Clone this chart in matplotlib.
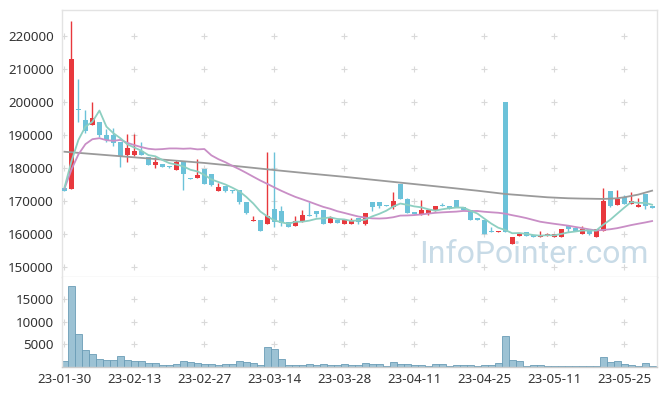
import matplotlib
matplotlib.use("Agg")
import matplotlib.pyplot as plt
import numpy as np
import pandas as pd

# ---------------- data ----------------
opens = [174000, 173600, 198000, 194500, 193100, 194000, 190000, 190000, 187800, 183800,
         184000, 185100, 183400, 180900, 181100, 180500, 179400, 181800, 176900, 177000,
         179800, 178100, 173000, 174400, 173200, 173200, 169800, 163800, 164300, 162900,
         167400, 166800, 163600, 162300, 163500, 165600, 166800, 167100, 163200, 164300,
         162900, 162900, 164900, 163000, 169800, 169800, 168800, 168200, 175000, 170700,
         166600, 166000, 166300, 167000, 168800, 168600, 170200, 168300, 167100, 164900,
         164300, 160700, 160500, 200000, 156800, 159300, 160600, 159700, 159000, 159500,
         159000, 159000, 162300, 161700, 159900, 161400, 159000, 160800, 172900, 168700,
         171100, 169200, 168100, 172000, 168600]
highs = [174000, 224500, 207000, 197500, 200000, 194000, 191900, 192000, 188000, 190200,
         190200, 187900, 183400, 183300, 181100, 180500, 182300, 181800, 176900, 182600,
         179800, 178100, 175400, 174400, 173200, 173200, 169800, 165400, 164300, 184900,
         184900, 168400, 163600, 165500, 167300, 169800, 166800, 167100, 165500, 164300,
         164600, 164900, 164900, 166200, 169800, 169800, 168800, 172600, 175000, 171000,
         166600, 170400, 167100, 168600, 169400, 168600, 170200, 168300, 167100, 164900,
         164300, 162100, 160800, 200000, 159100, 160200, 160600, 159700, 161000, 160300,
         159900, 161400, 162300, 161700, 162300, 161400, 161400, 174000, 172900, 173300,
         171800, 172600, 170900, 172000, 168600]
lows = [173000, 173500, 194000, 190700, 193000, 189300, 188000, 186600, 180200, 181700,
        183600, 183800, 181000, 180000, 180300, 180000, 179400, 173400, 176600, 177000,
        175100, 174500, 173000, 172600, 172300, 169000, 166000, 163800, 160800, 162900,
        162000, 162500, 162000, 162300, 163500, 165300, 165200, 162900, 163200, 163200,
        162900, 162900, 163100, 162700, 167000, 167900, 168500, 167500, 170700, 166200,
        166000, 165800, 165700, 167000, 168500, 167600, 168100, 167100, 164100, 164100,
        159900, 160500, 160500, 160700, 156800, 159300, 159300, 159000, 159000, 159500,
        159000, 159000, 160600, 161000, 159900, 159600, 159000, 160800, 168300, 168700,
        169000, 169200, 168100, 167500, 167800]
closes = [173000, 213000, 197500, 191300, 195100, 190000, 188600, 187600, 183600, 185900,
          185100, 183800, 181000, 181800, 180300, 180300, 181700, 178200, 176700, 177800,
          175100, 174800, 174300, 172900, 172900, 169600, 166300, 164300, 160800, 165500,
          163700, 163300, 162000, 163900, 165600, 165300, 166000, 162900, 165200, 163200,
          164600, 163800, 163700, 166200, 168300, 168400, 168500, 170100, 170700, 166400,
          166000, 167100, 167100, 168600, 168500, 167600, 168100, 167100, 164100, 164100,
          159900, 160500, 160800, 160700, 159100, 160200, 159300, 159000, 159700, 159900,
          159900, 161400, 161400, 161000, 161400, 159900, 161400, 170100, 168500, 170600,
          169000, 170100, 168900, 168400, 167800]
volumes = [1190, 18000, 7240, 3650, 2760, 1640, 1410, 1410, 2310, 1410,
           1190, 1190, 740, 740, 290, 290, 520, 1190, 970, 740,
           520, 520, 290, 520, 520, 1190, 970, 740, 290, 4330,
           3880, 1640, 290, 290, 290, 520, 290, 520, 290, 290,
           520, 290, 290, 740, 520, 520, 100, 970, 520, 520,
           290, 290, 100, 520, 520, 100, 290, 290, 290, 100,
           290, 290, 740, 6790, 1410, 1190, 100, 290, 290, 70,
           50, 70, 50, 70, 70, 70, 70, 2090, 970, 1190,
           520, 290, 100, 740, 70]
# first moving-average points (window reaches before the shown period)
ma5_head = [174000, 182000, 188500, 192500]
ma20_head = [173700, 179500, 184100, 187200, 188700, 189000, 188400, 188200, 188500, 187600,
             186900, 186300, 185800, 185600, 185700, 185900, 185900, 185800, 185900]
ma_long = [184900, 184730, 184560, 184390, 184220, 184050, 183880, 183710, 183540, 183370,
           183200, 183030, 182860, 182690, 182520, 182350, 182180, 182010, 181840, 181670,
           181500, 181290, 181080, 180870, 180660, 180450, 180230, 180010, 179790, 179570,
           179350, 179140, 178930, 178720, 178510, 178300, 178100, 177900, 177700, 177500,
           177300, 177080, 176860, 176640, 176420, 176200, 175980, 175760, 175540, 175320,
           175100, 174880, 174660, 174440, 174220, 174000, 173780, 173550, 173320, 173100,
           172850, 172600, 172350, 172100, 171930, 171770, 171600, 171430, 171270, 171100,
           171000, 170900, 170800, 170750, 170700, 170670, 170630, 170600, 170680, 170800,
           171100, 171500, 171900, 172500, 173100]
tick_labels = ['23-01-30', '23-02-13', '23-02-27', '23-03-14', '23-03-28',
               '23-04-11', '23-04-25', '23-05-11', '23-05-25']
price_ticks = [150000, 160000, 170000, 180000, 190000, 200000, 210000, 220000]
vol_ticks = [5000, 10000, 15000]

# ---------------- derived ----------------
n = len(closes)
x = np.arange(n)
cs = pd.Series(closes, dtype=float)
ma5 = cs.rolling(5).mean().to_numpy()
ma5[:4] = ma5_head
ma20 = cs.rolling(20).mean().to_numpy()
ma20[:19] = ma20_head

UP = '#e8383d'
DOWN = '#6cc2d9'
W, H, DPI = 665, 396, 100
fig = plt.figure(figsize=(W / DPI, H / DPI), dpi=DPI)
plt.rcParams['font.family'] = ['Noto Sans', 'DejaVu Sans']

L, R = 62, 657
ax = fig.add_axes([L / W, 1 - 277 / H, (R - L) / W, (277 - 10) / H])
axv = fig.add_axes([L / W, 1 - 366.5 / H, (R - L) / W, (366.5 - 277) / H])

xlim = (-0.35, n - 0.3)
grid_c = '#d9d9d9'
spine_c = '#e3e3e3'

# grid crosses
xt = list(range(0, n, 10))
gx, gy = np.meshgrid(xt, price_ticks)
ax.scatter(gx.ravel(), gy.ravel(), marker='+', s=22, c=grid_c, linewidths=0.8, zorder=0)

# candles
o = np.array(opens, float); c = np.array(closes, float)
h = np.array(highs, float); lo = np.array(lows, float)
up = c >= o
cols = np.where(up, UP, DOWN)
ax.vlines(x, lo, h, colors=cols, linewidth=1.0, zorder=2)
bottoms = np.minimum(o, c)
heights = np.maximum(np.abs(c - o), 250)
ax.bar(x, heights, bottom=bottoms, width=0.72, color=cols, linewidth=0, zorder=3)

# moving averages
ax.plot(x, ma_long, color='#9a9a9a', lw=1.3, zorder=4)
ax.plot(x, ma20, color='#c98ec6', lw=1.3, zorder=4)
ax.plot(x, ma5, color='#8dcfc1', lw=1.3, zorder=4)

ax.text(0.985, 0.03, 'InfoPointer.com', transform=ax.transAxes, ha='right', va='bottom',
        fontsize=23, family=['Roboto', 'DejaVu Sans'], color='#c8dbe7', zorder=1)

ax.set_xlim(*xlim)
ax.set_ylim(146940, 227850)
ax.set_yticks(price_ticks)
ax.set_yticklabels([str(t) for t in price_ticks])
ax.set_xticks([])
ax.tick_params(axis='y', length=0, pad=6, labelsize=9.6, labelcolor='#333333')
for s in ax.spines.values():
    s.set_color(spine_c)
    s.set_linewidth(1.0)

# volume
gx, gy = np.meshgrid(xt, vol_ticks)
axv.scatter(gx.ravel(), gy.ravel(), marker='+', s=22, c=grid_c, linewidths=0.8, zorder=0)
axv.bar(x, volumes, width=1.0, color='#9cc2d4', edgecolor='#6a9db6', linewidth=0.6, zorder=2)
axv.set_xlim(*xlim)
axv.set_ylim(0, 20000)
axv.set_yticks(vol_ticks)
axv.set_yticklabels([str(t) for t in vol_ticks])
axv.set_xticks(xt)
axv.set_xticklabels(tick_labels)
axv.tick_params(axis='both', length=0, labelsize=9.6, labelcolor='#333333')
axv.tick_params(axis='y', pad=6)
axv.tick_params(axis='x', pad=5)
for s in axv.spines.values():
    s.set_color(spine_c)
    s.set_linewidth(1.0)
axv.spines['top'].set_visible(False)
axv.spines['bottom'].set_color('#cccccc')

fig.savefig('out.png', dpi=DPI)
